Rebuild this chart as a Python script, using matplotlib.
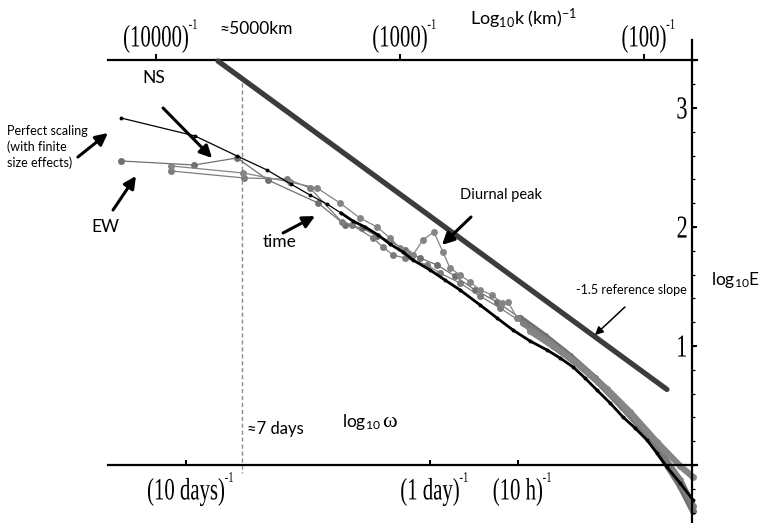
import numpy as np
import matplotlib.pyplot as plt
import matplotlib.transforms as mtransforms
from matplotlib.textpath import TextPath
from matplotlib.patches import PathPatch
from matplotlib.font_manager import FontProperties

plt.rcParams['font.family'] = ['Lato', 'DejaVu Sans']
plt.rcParams['mathtext.fontset'] = 'custom'
plt.rcParams['mathtext.rm'] = 'Lato'
plt.rcParams['mathtext.it'] = 'Lato:italic'
plt.rcParams['mathtext.bf'] = 'Lato:bold'

# x: log10 omega (omega in day^-1), y: log10 E
# perfect scaling (black, small dots)
ps_x = [-1.266, -0.963, -0.791, -0.668, -0.570, -0.492, -0.422, -0.365, -0.316, -0.266,
        -0.213, -0.164, -0.111, -0.070, 0.000, 0.061, 0.123, 0.205, 0.275, 0.340,
        0.410, 0.480, 0.533, 0.586, 0.635, 0.684, 0.738, 0.791, 0.840, 0.889,
        0.930, 0.971, 1.025, 1.078]
ps_y = [2.916, 2.765, 2.597, 2.479, 2.361, 2.269, 2.193, 2.118, 2.050, 2.000,
        1.933, 1.857, 1.790, 1.723, 1.639, 1.555, 1.471, 1.345, 1.235, 1.134,
        1.042, 0.966, 0.899, 0.824, 0.731, 0.630, 0.521, 0.403, 0.311, 0.210,
        0.101, -0.017, -0.151, -0.294]

# EW
ew_x = [-1.266, -0.967, -0.791, -0.664, -0.459, -0.348, -0.279, -0.217, -0.164, -0.102,
        -0.041, 0.029, 0.102, 0.184, 0.275, 0.369, 0.471, 0.574, 0.676, 0.779,
        0.881, 0.963, 1.025, 1.078]
ew_y = [2.555, 2.521, 2.580, 2.395, 2.202, 2.017, 1.992, 1.924, 1.882, 1.807,
        1.739, 1.681, 1.588, 1.471, 1.370, 1.235, 1.084, 0.916, 0.731, 0.521,
        0.269, 0.025, -0.176, -0.387]

# NS (with the diurnal peak)
ns_x = [-1.061, -0.766, -0.574, -0.463, -0.369, -0.287, -0.217, -0.164, -0.123, -0.090,
        -0.070, -0.029, 0.016, 0.053, 0.082, 0.123, 0.164, 0.205, 0.254, 0.295,
        0.320, 0.357, 0.410, 0.504, 0.615, 0.725, 0.820, 0.930, 1.025, 1.078]
ns_y = [2.513, 2.454, 2.378, 2.328, 2.202, 2.076, 2.000, 1.908, 1.824, 1.782,
        1.765, 1.891, 1.958, 1.790, 1.655, 1.597, 1.538, 1.471, 1.429, 1.361,
        1.370, 1.235, 1.126, 1.000, 0.832, 0.639, 0.445, 0.193, -0.008, -0.101]

# time
tm_x = [-1.061, -0.762, -0.586, -0.492, -0.361, -0.320, -0.234, -0.193, -0.152, -0.102,
        -0.012, 0.041, 0.123, 0.205, 0.287, 0.381, 0.484, 0.586, 0.689, 0.787,
        0.881, 0.955, 1.025, 1.078]
tm_y = [2.471, 2.412, 2.403, 2.328, 2.042, 2.017, 1.908, 1.832, 1.765, 1.739,
        1.681, 1.613, 1.529, 1.420, 1.319, 1.193, 1.042, 0.882, 0.697, 0.487,
        0.277, 0.076, -0.126, -0.345]

# -1.5 reference slope
ref_x = [-0.869, 0.971]
ref_y = [3.395, 0.635]

week_x = -0.77          # ~7 days
freq_ticks = [-1.0, 0.0, 0.36]
freq_labels = ['(10 days)', '(1 day)', '(10 h)']
k_ticks = [-4, -3, -2]
k_labels = ['(10000)', '(1000)', '(100)']
k_shift = 2.877         # offset between log10 k and log10 omega axes
e_ticks = [0, 1, 2, 3]
e_minor = np.arange(-0.4, 3.5, 0.2)

fig = plt.figure(figsize=(7.65, 5.23), dpi=100)
ax = fig.add_axes([0, 0, 1, 1])
ax.axis('off')

serif = FontProperties(family='Liberation Serif')


def narrow_text(x, y, s, size, squeeze, sup=None):
    # condensed Times-like text, centred on (x, y)
    p = TextPath((0, 0), s, size=size, prop=serif)
    bb = p.get_extents()
    tr = (mtransforms.Affine2D().translate(-(bb.x0 + bb.width / 2), -(bb.y0 + bb.height / 2))
          .scale(squeeze, 1) + mtransforms.ScaledTranslation(x, y, ax.transData))
    ax.add_patch(PathPatch(p, transform=tr, color='k', lw=0))
    if sup:
        q = TextPath((0, 0), sup, size=15, prop=serif)
        qb = q.get_extents()
        tr2 = (mtransforms.Affine2D().translate(-qb.x0, -(qb.y0 + qb.height / 2))
               .scale(0.72, 1).translate(bb.width * squeeze / 2 + 1, 15)
               + mtransforms.ScaledTranslation(x, y, ax.transData))
        ax.add_patch(PathPatch(q, transform=tr2, color='k', lw=0))


# data series
def series(x, y, color, ms, cut, lw_tail):
    x = np.array(x)
    y = np.array(y)
    ax.plot(x, y, '-o', color=color, lw=0.9, ms=ms, mew=0, zorder=2)
    tail = x >= cut
    ax.plot(x[tail], y[tail], '-', color=color, lw=lw_tail, solid_capstyle='round', zorder=2)


series(ew_x, ew_y, '#707070', 5, 0.36, 4.5)
series(tm_x, tm_y, '#7c7c7c', 5, 0.36, 4.5)
series(ns_x, ns_y, '#858585', 5, 0.36, 4.5)

psx = np.array(ps_x)
psy = np.array(ps_y)
ax.plot(psx, psy, '-o', color='k', lw=0.9, ms=2.8, mew=0, zorder=3)
ax.plot(psx[psx >= -0.37], psy[psx >= -0.37], '-', color='k', lw=2.0, zorder=3)

ax.plot(ref_x, ref_y, color='#3c3c3c', lw=3.8, solid_capstyle='round', zorder=4)
ax.plot([week_x, week_x], [3.27, -0.067], color='#8a8a8a', lw=1, ls=(0, (3, 2)), zorder=1)

# axes drawn by hand
ax.plot([-1.32, 1.094], [3.403, 3.403], color='k', lw=1.6)
ax.plot([-1.32, 1.094], [0, 0], color='k', lw=1.6)
ax.plot([1.074, 1.074], [3.571, -0.49], color='k', lw=1.6)
ax.vlines(np.array(k_ticks) + k_shift, 3.403, 3.454, color='k', lw=1.4)
ax.vlines(freq_ticks, 0, 0.045, color='k', lw=1.4)
ax.hlines(e_ticks, 1.074, 1.096, color='k', lw=1.4)
ax.hlines(e_minor, 1.074, 1.088, color='k', lw=0.9)

for k, lab in zip(k_ticks, k_labels):
    narrow_text(k + k_shift, 3.580, lab, 31, 0.67, sup='-1')
for f, lab in zip(freq_ticks, freq_labels):
    narrow_text(f, -0.227, lab, 31, 0.67, sup='-1')
for e in e_ticks[1:]:
    narrow_text(1.033, e, str(e), 32, 0.7)

# labels and annotations
ax.text(-0.711, 3.664, '≈5000km', ha='center', va='center', fontsize=12.5)
ax.text(0.385, 3.697, r'Log$_{\mathrm{10}}$k (km)$^{\mathrm{-1}}$', ha='center', va='baseline', fontsize=13)
ax.text(-1.131, 3.252, 'NS', ha='center', va='center', fontsize=12.5)
ax.text(-1.734, 2.672, 'Perfect scaling\n(with finite\nsize effects)', ha='left', va='center',
        fontsize=9, linespacing=1.35)
ax.text(-1.330, 1.996, 'EW', ha='center', va='center', fontsize=12.5)
ax.text(-0.615, 1.878, 'time', ha='center', va='center', fontsize=12.5)
ax.text(0.291, 2.269, 'Diurnal peak', ha='center', va='center', fontsize=10.5)
ax.text(0.824, 1.471, '-1.5 reference slope', ha='center', va='center', fontsize=9)
ax.text(1.254, 1.513, r'log$_{\mathrm{10}}$E', ha='center', va='baseline', fontsize=12.5)
ax.text(-0.750, 0.303, '≈7 days', ha='left', va='center', fontsize=12)
ax.text(-0.361, 0.319, r'log$_{\mathrm{10}}$', ha='left', va='baseline', fontsize=12.5)
ax.text(-0.195, 0.319, 'ω', ha='left', va='baseline', fontsize=16, family='Liberation Serif')

arrows = [((-1.094, 3.000), (-0.893, 2.580)),
          ((-1.443, 2.588), (-1.320, 2.790)),
          ((-1.299, 2.143), (-1.205, 2.429)),
          ((-0.602, 1.950), (-0.471, 2.092)),
          ((0.168, 2.084), (0.049, 1.849))]
for tail, head in arrows:
    ax.annotate('', xy=head, xytext=tail,
                arrowprops=dict(arrowstyle='-|>', lw=2.2, color='k', mutation_scale=18,
                                shrinkA=0, shrinkB=0), zorder=5)
ax.annotate('', xy=(0.676, 1.092), xytext=(0.799, 1.328),
            arrowprops=dict(arrowstyle='-|>', lw=1.1, color='k', mutation_scale=12,
                            shrinkA=0, shrinkB=0), zorder=5)

ax.set_xlim(-1.7623, 1.3730)
ax.set_ylim(-0.4874, 3.9076)
fig.savefig('out.png', dpi=100)
